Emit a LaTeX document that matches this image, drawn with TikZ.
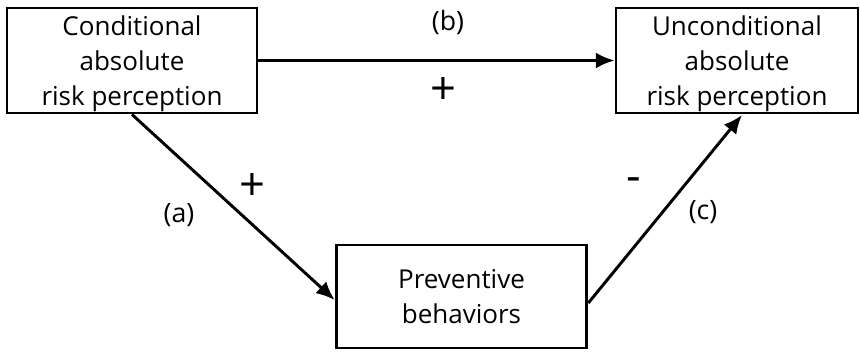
\documentclass[tikz,border=0pt]{standalone}
\usepackage{fontspec}
\setmainfont{Open Sans}
\usetikzlibrary{arrows.meta,positioning}

\begin{document}
\begin{tikzpicture}[
    x=0.75pt, y=-0.75pt,
    varbox/.style={draw=black, line width=2.2pt, fill=white, align=center, font=\fontsize{19.5}{26}\selectfont, inner sep=0pt, text depth=0pt},
    arrow/.style={-{Latex[length=14pt,width=12pt]}, line width=2.2pt, draw=black},
    sign/.style={font=\fontsize{34}{34}\selectfont},
    pathlbl/.style={font=\fontsize{20}{20}\selectfont}
  ]
    \useasboundingbox (0,0) rectangle (860,351);
    \node[varbox, minimum width=187.5pt, minimum height=78.75pt] (cond) at (132,60.5) {Conditional\\absolute\\risk perception};
    \node[varbox, minimum width=181.5pt, minimum height=78.75pt] (uncond) at (737,60.5) {Unconditional\\absolute\\risk perception};
    \node[varbox, minimum width=188pt, minimum height=77.25pt] (prev) at (461.5,296.5) {Preventive\\behaviors};
    \coordinate (previn) at (prev.west |- 0,300);
    \coordinate (prevout) at (prev.east |- 0,303);
    \coordinate (uncondin) at (742,115);
    \draw[arrow] (cond) -- (uncond);
    \draw[arrow] (cond.south) -- (previn);
    \draw[arrow] (prevout) -- (uncondin);
    \node[pathlbl] (lblb) at (448,22) {(b)};
    \node[sign] (signb) at (443,91) {+};
    \node[pathlbl] (lbla) at (179,215) {(a)};
    \node[sign] (signa) at (252,187) {+};
    \node[pathlbl] (lblc) at (703,212) {(c)};
    \node[sign] (signc) at (634,185) {-};
  \end{tikzpicture}
\end{document}
